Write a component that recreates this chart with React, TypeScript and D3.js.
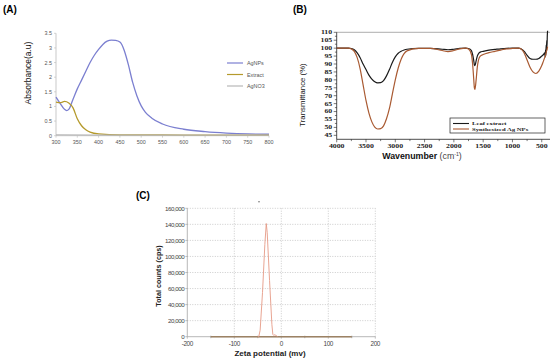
import { scaleLinear, line, curveMonotoneX, format, range } from "d3";

// (A) UV-Vis absorbance
const uvX = [300, 310, 320, 325, 330, 340, 350, 360, 370, 380, 390, 400, 410, 420, 430, 440, 450, 455, 460, 470, 480, 490, 500, 510, 525, 550, 600, 650, 700, 750, 800];
const uvAgNPs = [1.32, 1.1, 0.9, 0.86, 0.9, 1.25, 1.6, 1.9, 2.2, 2.5, 2.75, 2.95, 3.12, 3.23, 3.27, 3.26, 3.2, 3.1, 2.92, 2.42, 1.82, 1.36, 1.02, 0.8, 0.6, 0.4, 0.22, 0.14, 0.09, 0.06, 0.05];
const uvExtractX = [300, 310, 320, 330, 340, 350, 360, 370, 380, 400, 450, 500, 600, 800];
const uvExtract = [1.15, 1.13, 1.17, 1.12, 0.95, 0.58, 0.34, 0.2, 0.12, 0.06, 0.03, 0.03, 0.02, 0.02];
const uvAgNO3X = [300, 400, 500, 600, 700, 800];
const uvAgNO3 = [0.03, 0.02, 0.02, 0.02, 0.02, 0.02];
const uvLegend = ["AgNPs", "Extract", "AgNO3"];
const uvColors = ["#7b7fd0", "#b59a2c", "#b8b8b8"];

// (B) FTIR
const ftirX = [4000, 3800, 3750, 3700, 3650, 3600, 3550, 3500, 3450, 3400, 3350, 3300, 3250, 3200, 3150, 3100, 3050, 3000, 2950, 2900, 2850, 2800, 2600, 2400, 2200, 2100, 2000, 1900, 1800, 1750, 1700, 1680, 1660, 1650, 1640, 1620, 1600, 1580, 1550, 1500, 1400, 1300, 1200, 1100, 1000, 900, 850, 800, 750, 700, 650, 600, 550, 500, 470, 450, 440, 435, 430, 425, 420, 415, 410, 405, 400];
const ftirLeaf = [100, 100, 99.8, 99, 97, 94, 90, 86.5, 83, 80.5, 78.8, 78.1, 78.2, 79.5, 82.5, 86.5, 91, 94.5, 96.8, 98, 98.8, 99.3, 99.9, 99.9, 99.3, 99, 99.3, 99.8, 100, 99.8, 98.5, 96, 92, 89.5, 89, 92, 95, 96.5, 97.5, 98, 98.8, 99.2, 99.6, 99.9, 100, 100, 99.5, 98, 95.5, 93.5, 93, 93, 93.5, 95, 96, 97, 94.5, 99, 95.5, 102, 97.5, 105, 101, 108, 111];
const ftirAg = [100, 100, 99.5, 98, 94, 87, 77, 67, 59, 53.5, 50.2, 49, 49.2, 51, 55.5, 62, 71, 80, 87.5, 93, 96.5, 98.3, 99.8, 99.8, 98.5, 97.8, 98.5, 99.5, 100, 99.5, 96, 90, 80, 75, 74, 80, 88, 92.5, 95, 96, 97.2, 98, 98.8, 99.5, 99.8, 100, 99.5, 97, 92.5, 88, 85, 84, 85.5, 89, 92, 94, 95, 95.5, 96.5, 97, 98, 98.5, 99, 100, 101];
const ftirLegend = ["Leaf extract", "Synthesized Ag NPs"];
const ftirColors = ["#1a1a1a", "#a95a32"];

// (C) Zeta potential
const zetaX = [-50, -48, -45, -40, -35, -32, -30, -25, -20, -18, -16, -14, -12, -10, -8];
const zetaCounts = [0, 0, 8000, 55000, 115000, 141000, 130000, 70000, 15000, 3000, 1500, 2500, 2000, 800, 0];
const zetaBaseX = [-150, 150];

const xA = scaleLinear().domain([300, 800]).range([56, 269]);
const yA = scaleLinear().domain([0, 3.5]).range([135.7, 33.3]);
const xB = scaleLinear().domain([4000, 400]).range([336.7, 547.6]);
const yB = scaleLinear().domain([42.5, 110]).range([139.3, 32.3]);
const xC = scaleLinear().domain([-200, 200]).range([187.3, 375.3]);
const yC = scaleLinear().domain([0, 160000]).range([336.7, 208.3]);

function path(xs: number[], ys: number[], sx: any, sy: any, curve = true) {
  const g = line<number>()
    .x((d, i) => sx(xs[i]))
    .y((d) => sy(d));
  if (curve) g.curve(curveMonotoneX);
  return g(ys) || "";
}

const sans = "Liberation Sans, Arial, sans-serif";
const serif = "Liberation Serif, Times New Roman, serif";

// wide bold serif labels used on the FTIR panel
function Wide(props: { x: number; y: number; anchor: string; children: any; size?: number }) {
  return (
    <text
      transform={`translate(${props.x},${props.y}) scale(1.45,1)`}
      textAnchor={props.anchor}
      fontFamily={serif}
      fontWeight="bold"
      fontSize={props.size || 5.4}
      fill="#222"
    >
      {props.children}
    </text>
  );
}

export default function App() {
  const uvSeries = [
    { xs: uvX, ys: uvAgNPs },
    { xs: uvExtractX, ys: uvExtract },
    { xs: uvAgNO3X, ys: uvAgNO3 },
  ];
  const ftirSeries = [ftirLeaf, ftirAg];
  const fmt = format(",");

  return (
    <svg width={550} height={360} style={{ position: "absolute", left: 0, top: 0, background: "#fff" }}>
      {/* ---------- (A) ---------- */}
      <text x={3} y={13} fontFamily={sans} fontWeight="bold" fontSize={10}>(A)</text>
      <line x1={xA(300)} x2={xA(300)} y1={yA(3.5)} y2={yA(0)} stroke="#bbb" strokeWidth={0.8} />
      <line x1={xA(300)} x2={xA(800)} y1={yA(0)} y2={yA(0)} stroke="#bbb" strokeWidth={0.8} />
      {range(0, 3.51, 0.5).map((t) => (
        <g key={"ya" + t}>
          <line x1={xA(300) - 2} x2={xA(300)} y1={yA(t)} y2={yA(t)} stroke="#bbb" strokeWidth={0.6} />
          <text x={xA(300) - 4} y={yA(t) + 2} textAnchor="end" fontFamily={sans} fontSize={5.4} fill="#555">{t}</text>
        </g>
      ))}
      {range(300, 801, 50).map((t) => (
        <g key={"xa" + t}>
          <line x1={xA(t)} x2={xA(t)} y1={yA(0)} y2={yA(0) + 2} stroke="#bbb" strokeWidth={0.6} />
          <text x={xA(t)} y={yA(0) + 8} textAnchor="middle" fontFamily={sans} fontSize={5.4} fill="#555">{t}</text>
        </g>
      ))}
      <text transform="translate(31,73) rotate(-90)" textAnchor="middle" fontFamily={sans} fontSize={8.5} fill="#111">Absorbance(a.u)</text>
      {uvSeries.map((s, i) => (
        <path key={"uv" + i} d={path(s.xs, s.ys, xA, yA)} fill="none" stroke={uvColors[i]} strokeWidth={1.3} />
      ))}
      {uvLegend.map((name, i) => (
        <g key={"lga" + i}>
          <line x1={227} x2={243} y1={63 + i * 11.5} y2={63 + i * 11.5} stroke={uvColors[i]} strokeWidth={1.2} />
          <text x={247} y={65 + i * 11.5} fontFamily={sans} fontSize={5.4} fill="#555">{name}</text>
        </g>
      ))}

      {/* ---------- (B) ---------- */}
      <text x={293} y={13} fontFamily={sans} fontWeight="bold" fontSize={10}>(B)</text>
      <line x1={xB(4000)} x2={550} y1={yB(110)} y2={yB(110)} stroke="#999" strokeWidth={0.8} />
      <line x1={xB(4000)} x2={xB(4000)} y1={yB(110)} y2={yB(42.5)} stroke="#222" strokeWidth={0.8} />
      <line x1={xB(4000)} x2={550} y1={yB(42.5)} y2={yB(42.5)} stroke="#222" strokeWidth={0.8} />
      {range(45, 110.1, 2.5).map((t) => (
        <line key={"ybt" + t} x1={xB(4000) - (t % 5 === 0 ? 3 : 1.8)} x2={xB(4000)} y1={yB(t)} y2={yB(t)} stroke="#222" strokeWidth={0.6} />
      ))}
      {range(45, 110.1, 5).map((t) => (
        <Wide key={"yb" + t} x={xB(4000) - 4.5} y={yB(t) + 1.9} anchor="end">{t}</Wide>
      ))}
      {range(500, 4001, 250).map((t) => (
        <line key={"xbt" + t} x1={xB(t)} x2={xB(t)} y1={yB(42.5)} y2={yB(42.5) + (t % 500 === 0 ? 3 : 1.8)} stroke="#222" strokeWidth={0.6} />
      ))}
      {range(500, 4001, 500).map((t) => (
        <Wide key={"xb" + t} x={xB(t)} y={yB(42.5) + 9} anchor="middle">{t}</Wide>
      ))}
      <text transform="translate(305,95) rotate(-90)" textAnchor="middle" fontFamily={sans} fontSize={7.8} fill="#111">Transmittance (%)</text>
      <text x={422} y={159} textAnchor="middle" fontFamily={sans} fontSize={8.8} fill="#111">
        <tspan fontWeight="bold">Wavenumber </tspan>
        <tspan fill="#444">(cm</tspan>
        <tspan fill="#444" fontSize={5.2} dy={-3}>-1</tspan>
        <tspan fill="#444" dy={3}>)</tspan>
      </text>
      {ftirSeries.map((ys, i) => (
        <path key={"ft" + i} d={path(ftirX, ys, xB, yB)} fill="none" stroke={ftirColors[i]} strokeWidth={1.2} />
      ))}
      <rect x={450} y={118} width={95} height={15} fill="#fff" stroke="#222" strokeWidth={0.7} />
      {ftirLegend.map((name, i) => (
        <g key={"lgb" + i}>
          <line x1={453} x2={469} y1={123.5 + i * 5.5} y2={123.5 + i * 5.5} stroke={ftirColors[i]} strokeWidth={1.1} />
          <Wide x={472} y={125.3 + i * 5.5} anchor="start" size={4.6}>{name}</Wide>
        </g>
      ))}

      {/* ---------- (C) ---------- */}
      <text x={136} y={199} fontFamily={sans} fontWeight="bold" fontSize={10}>(C)</text>
      {range(20000, 160001, 20000).map((t) => (
        <line key={"gcy" + t} x1={xC(-200)} x2={xC(200)} y1={yC(t)} y2={yC(t)} stroke="#aaa" strokeWidth={0.6} strokeDasharray="1,1.5" />
      ))}
      {[-100, 0, 100, 200].map((t) => (
        <line key={"gcx" + t} x1={xC(t)} x2={xC(t)} y1={yC(0)} y2={yC(160000)} stroke="#aaa" strokeWidth={0.6} strokeDasharray="1,1.5" />
      ))}
      <line x1={xC(-200)} x2={xC(-200)} y1={yC(160000)} y2={yC(0)} stroke="#999" strokeWidth={0.7} />
      <line x1={xC(-200)} x2={xC(200)} y1={yC(0)} y2={yC(0)} stroke="#999" strokeWidth={0.7} />
      {range(0, 160001, 20000).map((t) => (
        <g key={"yc" + t}>
          <line x1={xC(-200) - 2} x2={xC(-200)} y1={yC(t)} y2={yC(t)} stroke="#999" strokeWidth={0.6} />
          <text x={xC(-200) - 3} y={yC(t) + 2.2} textAnchor="end" fontFamily={sans} fontSize={6.2} letterSpacing={-0.45} fill="#444">{fmt(t)}</text>
        </g>
      ))}
      {range(-200, 201, 100).map((t) => (
        <g key={"xc" + t}>
          <line x1={xC(t)} x2={xC(t)} y1={yC(0)} y2={yC(0) + 2} stroke="#999" strokeWidth={0.6} />
          <text x={xC(t)} y={yC(0) + 9} textAnchor="middle" fontFamily={sans} fontSize={6.4} letterSpacing={-0.4} fill="#444">{t}</text>
        </g>
      ))}
      {[-150, -50, 50, 150].map((t) => (
        <line key={"xcm" + t} x1={xC(t)} x2={xC(t)} y1={yC(0) - 1} y2={yC(0) + 1.5} stroke="#888" strokeWidth={0.6} />
      ))}
      <path d={path(zetaBaseX, [0, 0], xC, yC, false)} fill="none" stroke="#9c8264" strokeWidth={1.4} />
      <path d={path(zetaX, zetaCounts, xC, yC, false)} fill="none" stroke="#e59a86" strokeWidth={0.9} />
      <circle cx={259} cy={201.7} r={0.7} fill="#555" />
      <text transform="translate(161,276) rotate(-90)" textAnchor="middle" fontFamily={sans} fontWeight="bold" fontSize={7.2} fill="#222">Total counts (cps)</text>
      <text x={270} y={356} textAnchor="middle" fontFamily={sans} fontWeight="bold" fontSize={8} fill="#222">Zeta potential  (mv)</text>
    </svg>
  );
}
